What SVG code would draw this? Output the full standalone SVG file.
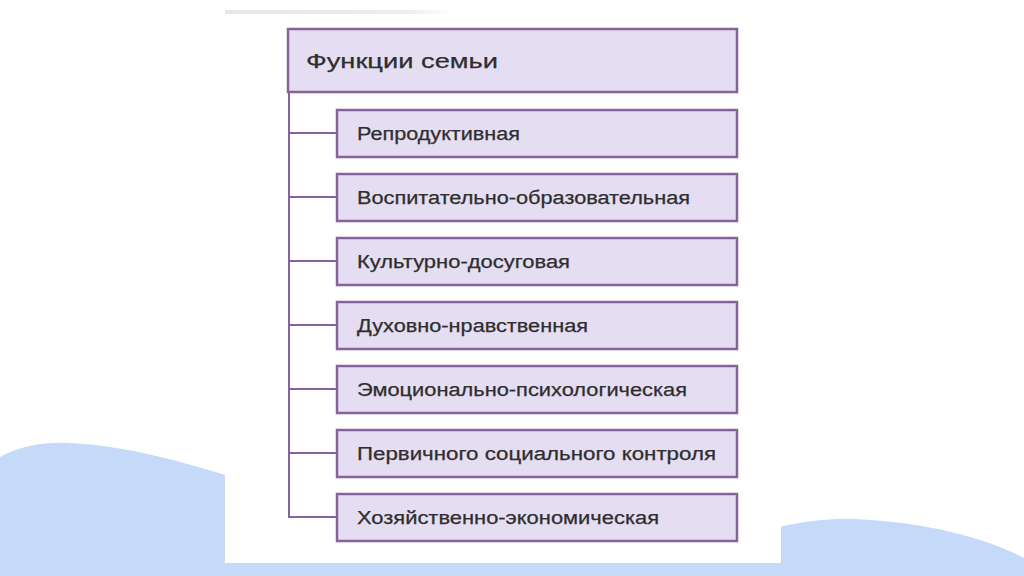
<svg xmlns="http://www.w3.org/2000/svg" width="1024" height="576" viewBox="0 0 1024 576">
<defs>
<linearGradient id="topShade" x1="0" y1="0" x2="1" y2="0">
<stop offset="0" stop-color="#e6e6e6"/>
<stop offset="0.8" stop-color="#eeeeee"/>
<stop offset="1" stop-color="#ffffff"/>
</linearGradient>
<style>
.box{fill:#e5ddf2;stroke:#86649a;stroke-width:2.5}
.lbl{font-family:"Liberation Sans",Arial,sans-serif;font-size:18px;fill:#2e2e2e;stroke:#2e2e2e;stroke-width:0.25}
.hdr{font-family:"Liberation Sans",Arial,sans-serif;font-size:21px;fill:#2e2e2e;stroke:#2e2e2e;stroke-width:0.25}
.conn{stroke:#86649a;stroke-width:2;fill:none}
.blob{fill:#c5d9f8}
</style>
</defs>
<rect width="1024" height="576" fill="#ffffff"/>
<g id="background">
<path class="blob" d="M0,457 C20,446 45,442 68,443 C120,445 170,458 232,477 L232,576 L0,576 Z"/>
<path class="blob" d="M775,528 C800,522 830,518 855,519 C930,522 990,540 1024,558 L1024,576 L775,576 Z"/>
<rect class="blob" x="0" y="563" width="1024" height="13"/>
<rect x="225" y="14" width="556" height="549" fill="#ffffff"/>
<rect x="225" y="10" width="228" height="4" fill="url(#topShade)"/>
</g>
<g id="connectors">
<line class="conn" x1="289" y1="92" x2="289" y2="518"/>
<line class="conn" x1="288" y1="133" x2="337" y2="133"/>
<line class="conn" x1="288" y1="197" x2="337" y2="197"/>
<line class="conn" x1="288" y1="261" x2="337" y2="261"/>
<line class="conn" x1="288" y1="325" x2="337" y2="325"/>
<line class="conn" x1="288" y1="389" x2="337" y2="389"/>
<line class="conn" x1="288" y1="453" x2="337" y2="453"/>
<line class="conn" x1="288" y1="517" x2="337" y2="517"/>
</g>
<g id="node-root">
<rect class="box" x="288" y="29" width="449" height="63"/>
<text class="hdr" x="306" y="68" textLength="192" lengthAdjust="spacingAndGlyphs">Функции семьи</text>
</g>
<g id="node-1">
<rect class="box" x="337" y="110" width="400" height="47"/>
<text class="lbl" x="357" y="140" textLength="163" lengthAdjust="spacingAndGlyphs">Репродуктивная</text>
</g>
<g id="node-2">
<rect class="box" x="337" y="174" width="400" height="47"/>
<text class="lbl" x="357" y="204" textLength="333" lengthAdjust="spacingAndGlyphs">Воспитательно-образовательная</text>
</g>
<g id="node-3">
<rect class="box" x="337" y="238" width="400" height="47"/>
<text class="lbl" x="357" y="268" textLength="213" lengthAdjust="spacingAndGlyphs">Культурно-досуговая</text>
</g>
<g id="node-4">
<rect class="box" x="337" y="302" width="400" height="47"/>
<text class="lbl" x="357" y="332" textLength="231" lengthAdjust="spacingAndGlyphs">Духовно-нравственная</text>
</g>
<g id="node-5">
<rect class="box" x="337" y="366" width="400" height="47"/>
<text class="lbl" x="357" y="396" textLength="330" lengthAdjust="spacingAndGlyphs">Эмоционально-психологическая</text>
</g>
<g id="node-6">
<rect class="box" x="337" y="430" width="400" height="47"/>
<text class="lbl" x="357" y="460" textLength="359" lengthAdjust="spacingAndGlyphs">Первичного социального контроля</text>
</g>
<g id="node-7">
<rect class="box" x="337" y="494" width="400" height="47"/>
<text class="lbl" x="357" y="524" textLength="302" lengthAdjust="spacingAndGlyphs">Хозяйственно-экономическая</text>
</g>
</svg>
